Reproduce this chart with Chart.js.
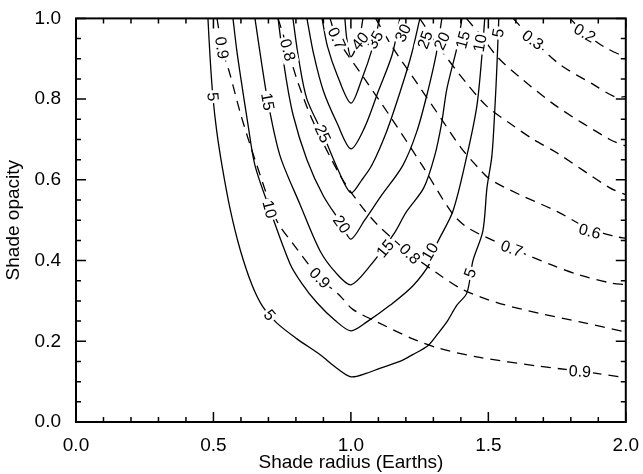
<!DOCTYPE html>
<html>
<head>
<meta charset="utf-8">
<script src="https://cdn.jsdelivr.net/npm/chart.js@4.4.0/dist/chart.umd.min.js"></script>
<style>
  body { margin: 0; background: #fff; }
  #wrap { width: 643px; height: 474px; }
</style>
</head>
<body>
<div id="wrap"><canvas id="contour-chart"></canvas></div>
<script>
// axis ticks
const xMajor = [0, 0.5, 1, 1.5, 2];
const xMinor = [0.1, 0.2, 0.3, 0.4, 0.6, 0.7, 0.8, 0.9, 1.1, 1.2, 1.3, 1.4, 1.6, 1.7, 1.8, 1.9];
const yMajor = [0, 0.2, 0.4, 0.6, 0.8, 1];
const yMinor = [0.05, 0.1, 0.15, 0.25, 0.3, 0.35, 0.45, 0.5, 0.55, 0.65, 0.7, 0.75, 0.85, 0.9, 0.95];

// solid contours, [radius, opacity]
const contour5 = [[0.48, 1.0], [0.488, 0.9], [0.498, 0.806], [0.512, 0.72], [0.531, 0.636], [0.56, 0.53], [0.596, 0.43], [0.64, 0.34], [0.68, 0.285], [0.731, 0.245], [0.804, 0.206], [0.887, 0.167], [0.949, 0.133], [1.0, 0.112],
  [1.058, 0.121], [1.105, 0.133], [1.178, 0.15], [1.225, 0.167], [1.28, 0.189], [1.313, 0.216], [1.349, 0.248], [1.385, 0.289], [1.422, 0.32], [1.444, 0.4], [1.48, 0.473], [1.495, 0.58], [1.513, 0.66], [1.524, 0.78], [1.531, 0.879], [1.538, 1.0]];
const contour10 = [[0.571, 1.0], [0.585, 0.92], [0.6, 0.85], [0.625, 0.74], [0.651, 0.636], [0.705, 0.527], [0.778, 0.393], [0.82, 0.345], [0.876, 0.296], [0.942, 0.252], [1.0, 0.226],
  [1.058, 0.248], [1.142, 0.289], [1.225, 0.337], [1.287, 0.393], [1.313, 0.442], [1.371, 0.522], [1.422, 0.66], [1.458, 0.782], [1.476, 0.903], [1.487, 1.0]];
const contour15 = [[0.651, 1.0], [0.675, 0.89], [0.698, 0.794], [0.742, 0.66], [0.815, 0.539], [0.887, 0.425], [0.945, 0.37], [1.0, 0.34],
  [1.065, 0.383], [1.16, 0.47], [1.2, 0.519], [1.265, 0.58], [1.305, 0.66], [1.33, 0.74], [1.349, 0.825], [1.389, 0.937], [1.404, 1.0]];
const contour20 = [[0.735, 1.0], [0.76, 0.87], [0.79, 0.76], [0.84, 0.65], [0.9, 0.56], [0.967, 0.49], [1.0, 0.453],
  [1.05, 0.5], [1.11, 0.56], [1.189, 0.636], [1.24, 0.72], [1.28, 0.82], [1.31, 0.91], [1.331, 1.0]];
const contour25 = [[0.789, 1.0], [0.81, 0.9], [0.84, 0.8], [0.898, 0.714], [0.95, 0.63], [1.0, 0.568],
  [1.04, 0.6], [1.076, 0.636], [1.13, 0.72], [1.18, 0.82], [1.22, 0.91], [1.251, 1.0]];
const contour30 = [[0.84, 1.0], [0.865, 0.91], [0.9, 0.82], [0.95, 0.74], [1.0, 0.677],
  [1.05, 0.73], [1.1, 0.82], [1.15, 0.91], [1.178, 1.0]];
const contour35 = [[0.895, 1.0], [0.915, 0.93], [0.95, 0.86], [1.0, 0.79], [1.04, 0.85], [1.08, 0.93], [1.105, 1.0]];
const contour40 = [[0.978, 1.0], [0.985, 0.95], [1.0, 0.905], [1.03, 0.95], [1.044, 1.0]];

// dashed contours
const dashed09 = [[0.513, 1.0], [0.531, 0.927], [0.56, 0.862], [0.6, 0.76], [0.658, 0.636], [0.731, 0.498], [0.789, 0.442], [0.887, 0.357], [0.96, 0.313], [1.007, 0.279], [1.095, 0.248], [1.225, 0.206], [1.324, 0.182], [1.469, 0.16], [1.687, 0.138], [1.833, 0.126], [2.0, 0.11]];
const dashed08 = [[0.735, 1.0], [0.771, 0.922], [0.807, 0.842], [0.862, 0.745], [0.96, 0.612], [1.033, 0.539], [1.095, 0.49], [1.16, 0.449], [1.215, 0.417], [1.313, 0.369], [1.407, 0.328], [1.531, 0.296], [1.687, 0.269], [1.833, 0.248], [2.0, 0.223]];
const dashed07 = [[0.924, 1.0], [0.949, 0.951], [1.05, 0.85], [1.15, 0.75], [1.26, 0.635], [1.371, 0.515], [1.433, 0.478], [1.585, 0.43], [1.735, 0.388], [1.833, 0.364], [1.942, 0.345], [2.0, 0.34]];
const dashed06 = [[1.09, 1.0], [1.15, 0.93], [1.24, 0.84], [1.33, 0.75], [1.4, 0.68], [1.462, 0.631], [1.505, 0.602], [1.615, 0.563], [1.749, 0.522], [1.869, 0.478], [1.967, 0.459], [2.0, 0.455]];
const dashed05 = [[1.25, 1.0], [1.33, 0.92], [1.42, 0.84], [1.495, 0.782], [1.578, 0.74], [1.662, 0.701], [1.749, 0.667], [1.942, 0.58], [2.0, 0.563]];
const dashed04 = [[1.42, 1.0], [1.47, 0.96], [1.535, 0.903], [1.615, 0.854], [1.749, 0.782], [1.942, 0.7], [2.0, 0.684]];
const dashed03 = [[1.59, 1.0], [1.662, 0.947], [1.76, 0.886], [1.88, 0.837], [1.96, 0.806], [2.0, 0.806]];
const dashed02 = [[1.796, 1.0], [1.851, 0.964], [1.92, 0.93], [2.0, 0.903]];

// contour labels: text, radius, opacity, angle (deg)
const contourLabels = [
  ["5", 0.498, 0.806, 85], ["5", 0.705, 0.265, 50], ["5", 1.433, 0.369, -70], ["5", 1.535, 0.964, -80],
  ["10", 0.705, 0.527, 75], ["10", 1.287, 0.422, -60], ["10", 1.469, 0.939, -80],
  ["15", 0.698, 0.794, 80], ["15", 1.124, 0.43, -50], ["15", 1.407, 0.947, -75],
  ["20", 0.967, 0.49, 55], ["20", 1.331, 0.944, -65],
  ["25", 0.898, 0.714, 65], ["25", 1.269, 0.947, -70],
  ["30", 1.189, 0.964, -65], ["35", 1.087, 0.947, -60], ["40", 1.033, 0.944, -50],
  ["0.9", 0.531, 0.927, 82], ["0.9", 0.887, 0.357, 45], ["0.9", 1.833, 0.126, 3],
  ["0.8", 0.771, 0.922, 75], ["0.8", 1.215, 0.417, 45],
  ["0.7", 0.949, 0.951, 65], ["0.7", 1.585, 0.43, 20],
  ["0.6", 1.869, 0.473, 15], ["0.3", 1.662, 0.947, 35], ["0.2", 1.851, 0.964, 30]
];

const solidContours = [contour5, contour10, contour15, contour20, contour25, contour30, contour35, contour40];
const dashedContours = [dashed09, dashed08, dashed07, dashed06, dashed05, dashed04, dashed03, dashed02];

const FONT = '"Liberation Sans", Arial, Helvetica, sans-serif';

const toPoints = (arr) => arr.map((p) => ({ x: p[0], y: p[1] }));

const datasets = [];
solidContours.forEach((c) => {
  datasets.push({ data: toPoints(c), borderColor: "#000", borderWidth: 1.3, pointRadius: 0, showLine: true, tension: 0.3, fill: false });
});
dashedContours.forEach((c) => {
  datasets.push({ data: toPoints(c), borderColor: "#000", borderWidth: 1.3, borderDash: [10, 7], pointRadius: 0, showLine: true, tension: 0.3, fill: false });
});

// white page
const whiteBg = {
  id: "whiteBg",
  beforeDraw(chart) {
    const ctx = chart.ctx;
    ctx.save();
    ctx.fillStyle = "#fff";
    ctx.fillRect(0, 0, chart.width, chart.height);
    ctx.restore();
  },
};

// labels sitting on the contour lines
const lineLabels = {
  id: "lineLabels",
  afterDatasetsDraw(chart) {
    const { ctx, scales } = chart;
    ctx.save();
    ctx.font = "16px " + FONT;
    ctx.textAlign = "center";
    ctx.textBaseline = "middle";
    contourLabels.forEach(([t, vx, vy, ang]) => {
      const px = scales.x.getPixelForValue(vx);
      const py = scales.y.getPixelForValue(vy);
      const w = ctx.measureText(t).width;
      ctx.save();
      ctx.translate(px, py);
      ctx.rotate((ang * Math.PI) / 180);
      ctx.fillStyle = "#fff";
      ctx.fillRect(-w / 2 - 2, -8, w + 4, 16);
      ctx.fillStyle = "#000";
      ctx.fillText(t, 0, 1);
      ctx.restore();
    });
    ctx.restore();
  },
};

// IDL style box with ticks pointing inward
const boxTicks = {
  id: "boxTicks",
  afterDraw(chart) {
    const { ctx, chartArea: a, scales } = chart;
    ctx.save();
    ctx.strokeStyle = "#000";
    ctx.lineWidth = 1.5;
    ctx.beginPath();
    const xt = (v, len) => {
      const p = scales.x.getPixelForValue(v);
      ctx.moveTo(p, a.bottom); ctx.lineTo(p, a.bottom - len);
      ctx.moveTo(p, a.top); ctx.lineTo(p, a.top + len);
    };
    const yt = (v, len) => {
      const p = scales.y.getPixelForValue(v);
      ctx.moveTo(a.left, p); ctx.lineTo(a.left + len, p);
      ctx.moveTo(a.right, p); ctx.lineTo(a.right - len, p);
    };
    xMajor.forEach((v) => xt(v, 10));
    xMinor.forEach((v) => xt(v, 5));
    yMajor.forEach((v) => yt(v, 10));
    yMinor.forEach((v) => yt(v, 5));
    ctx.stroke();
    ctx.lineWidth = 2;
    ctx.strokeRect(a.left, a.top, a.right - a.left, a.bottom - a.top);
    ctx.restore();
  },
};

const canvas = document.getElementById("contour-chart");

let contourChart = new Chart(canvas, {
  type: "scatter",
  data: { datasets: datasets },
  options: {
    responsive: true,
    maintainAspectRatio: false,
    animation: false,
    layout: { padding: { top: 10, right: 17, left: 0, bottom: 0 } },
    plugins: { legend: { display: false }, tooltip: { enabled: false } },
    scales: {
      x: {
        type: "linear",
        min: 0,
        max: 2,
        afterBuildTicks: (s) => { s.ticks = xMajor.map((v) => ({ value: v })); },
        afterFit: (s) => { s.height = 52; },
        grid: { display: false },
        border: { display: false },
        ticks: { color: "#000", font: { family: FONT, size: 19 }, padding: 4, maxRotation: 0, callback: (v) => v.toFixed(1) },
        title: { display: true, text: "Shade radius (Earths)", color: "#000", font: { family: FONT, size: 19 }, padding: { top: 0, bottom: 0 } },
      },
      y: {
        type: "linear",
        min: 0,
        max: 1,
        afterBuildTicks: (s) => { s.ticks = yMajor.map((v) => ({ value: v })); },
        afterFit: (s) => { s.width = 76; },
        grid: { display: false },
        border: { display: false },
        ticks: { color: "#000", font: { family: FONT, size: 19 }, padding: 7, callback: (v) => v.toFixed(1) },
        title: { display: true, text: "Shade opacity", color: "#000", font: { family: FONT, size: 19 }, padding: { top: 2, bottom: 0 } },
      },
    },
  },
  plugins: [whiteBg, lineLabels, boxTicks],
});
</script>
</body>
</html>
